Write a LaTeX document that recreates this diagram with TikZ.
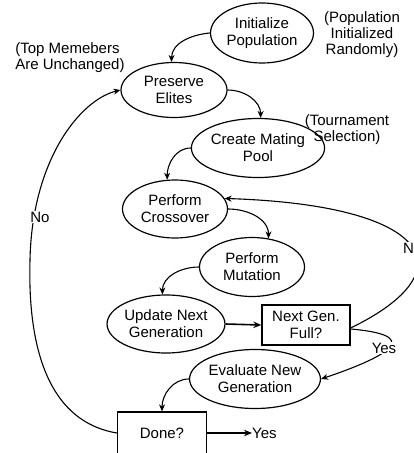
\documentclass[tikz,border=0pt]{standalone}
\usepackage{fontspec}
\setmainfont{Liberation Sans}
\usetikzlibrary{arrows.meta,shapes.geometric}
\begin{document}
\begin{tikzpicture}[x=1pt,y=-1pt,
  every node/.style={font=\fontsize{15}{17}\selectfont, align=center, inner sep=0pt},
  oval/.style={draw, ellipse, line width=1.2pt, minimum width=105pt, minimum height=59pt},
  box/.style={draw, rectangle, line width=1.3pt, minimum width=89pt, minimum height=41pt},
  note/.style={font=\fontsize{15}{16}\selectfont},
  tag/.style={fill=white, inner sep=1pt},
  conn/.style={line width=1.1pt, -{Stealth[length=7pt,width=6pt]}},
  thick conn/.style={line width=1.6pt, -{Stealth[length=8pt,width=6.5pt]}}
]
\useasboundingbox (0,0) rectangle (414,453);
\clip (0,0) rectangle (414,453);

\node[oval, minimum width=103pt, minimum height=60pt] (init) at (262,33) {Initialize\\Population};
\node[oval, minimum width=106pt, minimum height=55pt] (pres) at (174,90) {Preserve\\Elites};
\node[oval] (create) at (258,148) {Create Mating\\Pool};
\node[oval, minimum height=58pt] (cross) at (175,209) {Perform\\Crossover};
\node[oval] (mut) at (252,267) {Perform\\Mutation};
\node[oval, minimum width=103pt, minimum height=58pt] (upd) at (166,324) {Update Next\\Generation};
\node[box, minimum width=88pt, minimum height=40pt] (ng) at (306,325) {Next Gen.\\Full?};
\node[oval] (eval) at (255,379) {Evaluate New\\Generation};
\node[box, minimum height=42pt] (done) at (162,433) {Done?};

\node[note] (n1) at (362,35) {(Population\\Initialized\\Randomly)};
\node[note, align=left] (n2) at (70,58) {(Top Memebers\\Are Unchanged)};
\node[note] (n3) at (347,130) {(Tournament\\Selection)};

\draw[conn] (init.west) to[out=185,in=90] (pres.95);
\draw[conn] (pres.east) to[out=0,in=90] (create.85);
\draw[conn] (create.west) to[out=180,in=90] (cross.105);
\draw[conn] (cross.east) to[out=0,in=90] (mut.60);
\draw[conn] (mut.west) to[out=180,in=90] (upd.97);
\draw[thick conn] (upd.east) -- (ng.west);
\draw[conn] (eval.west) to[out=180,in=90] (done.north);

\draw[conn] ([yshift=-3pt]ng.east) .. controls (470,270) and (430,205) .. (cross.12);
\node[tag, anchor=west] (no2) at (402,248) {No};

\draw[conn] ([yshift=-4pt]ng.east) .. controls (420,335) and (395,354) .. (eval.east);
\node[tag] (yes1) at (384,348) {Yes};

\draw[conn] (done.west) .. controls (40,420) and (28,330) .. (30,260)
  .. controls (32,160) and (80,100) .. (pres.west);
\node[tag] (no1) at (40,217) {No};

\node[anchor=west] (yes2) at (252,433) {Yes};
\draw[thick conn] (done.east) -- (yes2.west);
\end{tikzpicture}
\end{document}
